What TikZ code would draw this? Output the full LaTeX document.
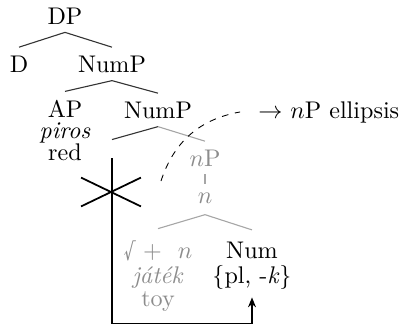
\documentclass[tikz,border=0pt,11pt]{standalone}
\usepackage{tikz}
\usetikzlibrary{arrows.meta,shapes.misc}

\begin{document}
\begin{tikzpicture}[
    x=0.4545pt, y=-0.4545pt,
    word/.style={inner sep=3.6pt, anchor=base},
    faded/.style={word, text=black!45},
    branch/.style={draw=black!80, line width=0.5pt},
    fadedbranch/.style={draw=black!35, line width=0.5pt},
    move/.style={-{Stealth[length=4.5pt, width=3.6pt]}, thick},
    blocked/.style={cross out, draw=black, thick, inner sep=0pt, minimum width=26.4pt, minimum height=12.3pt}
]
\useasboundingbox (0,0) rectangle (403,324);

% upper tree
\node[word] (dp) at (65,24) {DP};
\node[word] (d) at (19,72) {D};
\node[word] (nump) at (112,72) {NumP};
\node[word] (ap) at (65,117) {AP};
\node[word] (piros) at (65,138) {\textit{piros}};
\node[word] (red) at (65,160) {red};
\node[word] (numpb) at (158,118) {NumP};
\node[inner sep=0pt, minimum height=8.2pt] (trace) at (112,149) {};

% elided nP
\node[faded] (np) at (205,166) {$n$P};
\node[faded] (n) at (205,203) {$n$};
\node[faded] (root) at (158,258) {\textsurd\ + \ $n$};
\node[faded] (jatek) at (158,283) {\textit{játék}};
\node[faded] (toy) at (158,306) {toy};
\node[word] (num) at (252,258) {Num};
\node[word] (feat) at (252,283) {\{pl, -\textit{k}\}};

\node[word, anchor=base west] (ell) at (250,118) {$\rightarrow$ $n$P ellipsis};
\coordinate (elstart) at (161,181);
\node[blocked] (stop) at (111,192) {};

\draw[branch] (d.north) -- (dp.south) -- (nump.north);
\draw[branch] (ap.north) -- (nump.south) -- (numpb.north);
\draw[branch] (trace.north) -- (numpb.south);
\draw[fadedbranch] (numpb.south) -- (np.north);
\draw[fadedbranch] (np.south) -- (n.north);
\draw[fadedbranch] ([yshift=1.5pt]root.north) -- ([yshift=-1.5pt]n.south) -- ([yshift=1.5pt]num.north);

\draw[dashed] (elstart) to[out=72, in=190] ([xshift=-4.5pt]ell.west);
\draw[move] (trace.south) -- ++(0,165) -| (feat.south);
\end{tikzpicture}
\end{document}
